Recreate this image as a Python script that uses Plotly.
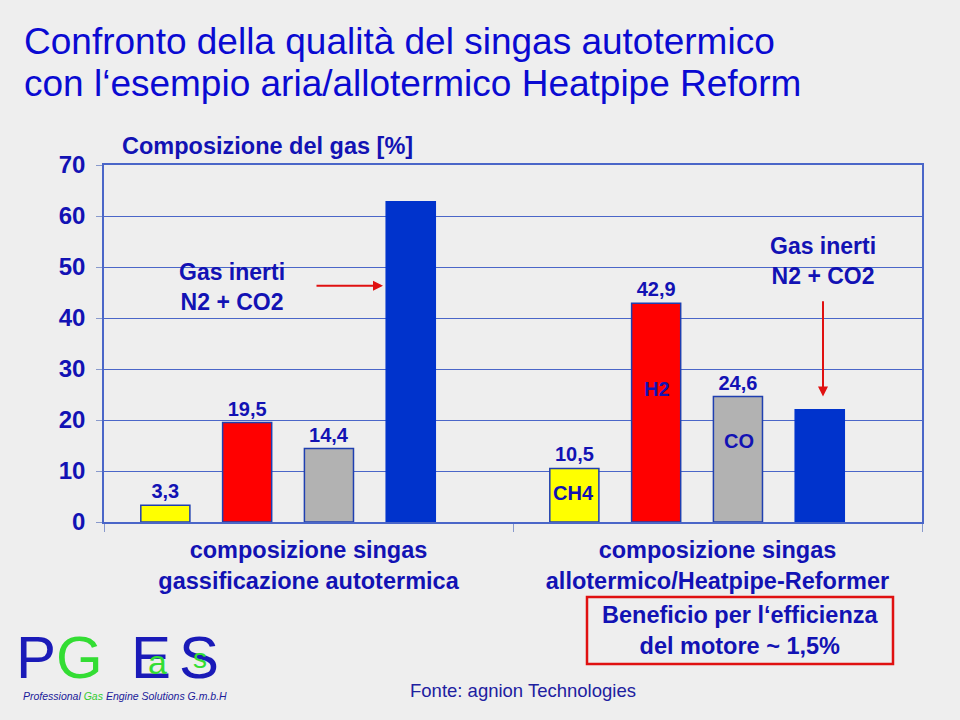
import plotly.graph_objects as go

# data
groups = ["autotermica", "allotermico"]
group_labels = ["composizione singas<br>gassificazione autotermica",
                "composizione singas<br>allotermico/Heatpipe-Reformer"]
ch4 = [3.3, 10.5]
h2 = [19.5, 42.9]
co = [14.4, 24.6]
inerti = [62.8, 22.0]
y_ticks = [0, 10, 20, 30, 40, 50, 60, 70]

BG = "#eeeeee"
NAVY = "#1212b4"
GRID = "#4a66c8"
FONT = "Arial, Liberation Sans, sans-serif"

# plot area in pixels: x 104..922, y 165..522
L, R, T, B = 104, 922, 165, 522


def px(x):
    return (x - L) / (R - L)


def py(y):
    return (B - y) / (B - T)


def grp(xpix):
    # pixel -> category position (0 and 1 are the group centres)
    return (xpix - L) / ((R - L) / 2) - 0.5


def note(text, x, y, size, color=NAVY, bold=False, xanchor="center",
         family=FONT, italic=False):
    fig.add_annotation(xref="paper", yref="paper", x=px(x), y=py(y),
                       xanchor=xanchor, yanchor="middle", showarrow=False,
                       text=text,
                       font=dict(family=family, size=size, color=color,
                                 weight="bold" if bold else "normal",
                                 style="italic" if italic else "normal"))


fig = go.Figure()
series = [("CH4", ch4, "#ffff00", True), ("H2", h2, "#ff0000", True),
          ("CO", co, "#b2b2b2", True), ("Inerti", inerti, "#0033cc", False)]
offsets = [-0.41, -0.21, -0.01, 0.19]
for (name, vals, color, lab), off in zip(series, offsets):
    fig.add_trace(go.Bar(
        x=groups, y=vals, name=name, width=0.12, offset=off,
        marker=dict(color=color,
                    line=dict(color="#1f3fb0" if lab else color, width=1.5)),
        text=[f"{v:.1f}".replace(".", ",") for v in vals] if lab else None,
        textposition="outside", cliponaxis=False,
        textfont=dict(family=FONT, size=20, color=NAVY, weight="bold"),
        hoverinfo="skip"))

fig.update_layout(
    width=960, height=720, showlegend=False, barmode="overlay",
    paper_bgcolor=BG, plot_bgcolor=BG,
    margin=dict(l=L, r=960 - R, t=T, b=720 - B),
    font=dict(family=FONT, color=NAVY),
)
fig.update_yaxes(range=[0, 70], tickvals=y_ticks, showgrid=True,
                 gridcolor=GRID, gridwidth=1, zeroline=False,
                 showline=True, linecolor=GRID, linewidth=1.5, mirror=True,
                 ticks="outside", ticklen=6, tickcolor="#8899cc",
                 ticklabelstandoff=6,
                 tickfont=dict(family=FONT, size=24, color=NAVY,
                               weight="bold"))
fig.update_xaxes(type="category", range=[-0.5, 1.5], tickvals=groups,
                 ticktext=group_labels, tickson="boundaries",
                 ticks="outside", ticklen=8, tickcolor="#8899cc",
                 showline=True, linecolor=GRID, linewidth=1.5, mirror=True,
                 ticklabelstandoff=6,
                 tickfont=dict(family=FONT, size=23.5, color=NAVY,
                               weight="bold"))

# title
note("Confronto della qualità del singas autotermico", 22, 42, 37,
     color="#0a0ad2", xanchor="left")
note("con l‘esempio aria/allotermico Heatpipe Reform", 22, 84, 37,
     color="#0a0ad2", xanchor="left")
note("Composizione del gas [%]", 120, 146, 23.5, bold=True, xanchor="left")

# inner labels
for txt, gx, yv in [("CH4", 573.5, 5.7), ("H2", 656.5, 26.0),
                    ("CO", 738.5, 15.9)]:
    fig.add_annotation(x=grp(gx), y=yv, text=txt, showarrow=False,
                       font=dict(family=FONT, size=20, color=NAVY,
                                 weight="bold"))

# inert gas notes and arrows
bold = dict(family=FONT, size=23, color=NAVY, weight="bold")
fig.add_annotation(x=grp(232), y=46.0, text="Gas inerti<br>N2 + CO2",
                   showarrow=False, font=bold)
fig.add_annotation(x=grp(823), y=51.2, text="Gas inerti<br>N2 + CO2",
                   showarrow=False, font=bold)
fig.add_annotation(x=grp(383), y=46.3, ax=grp(315), ay=46.3,
                   xref="x", yref="y", axref="x", ayref="y", text="",
                   showarrow=True, arrowhead=2, arrowsize=1, arrowwidth=2,
                   arrowcolor="#e01010")
fig.add_annotation(x=grp(823), y=24.6, ax=grp(823), ay=43.6,
                   xref="x", yref="y", axref="x", ayref="y", text="",
                   showarrow=True, arrowhead=2, arrowsize=1, arrowwidth=2,
                   arrowcolor="#e01010")

# benefit box
fig.add_shape(type="rect", xref="paper", yref="paper",
              x0=px(587), x1=px(893), y0=py(597), y1=py(664),
              line=dict(color="#e01010", width=2.5))
note("Beneficio per l‘efficienza<br>del motore ~ 1,5%", 740, 630.5, 23.5,
     bold=True)
note("Fonte: agnion Technologies", 408, 690, 18.5, color="#2020a0",
     xanchor="left")

# logo
LB, LG = "#1a1ab8", "#33dd33"
LOGO = "Arial, Liberation Sans, sans-serif"
for ch, cx, col in [("P", 36, LB), ("G", 79, LG), ("E", 151, LB),
                    ("S", 199, LB)]:
    note(ch, cx, 657, 60, color=col, family=LOGO)
note("a", 157, 662, 34, color=LG, family=LOGO)
note("s", 200, 658, 28, color=LG, family=LOGO)
note("Professional <span style='color:#33cc33'>Gas</span>"
     " Engine Solutions G.m.b.H", 21, 696, 10.5, color="#1a1a99",
     xanchor="left", italic=True)

fig.write_html("out.html", config={"displayModeBar": False},
               post_script="document.body.style.margin='0';"
                           "document.body.style.background='#eeeeee';")
